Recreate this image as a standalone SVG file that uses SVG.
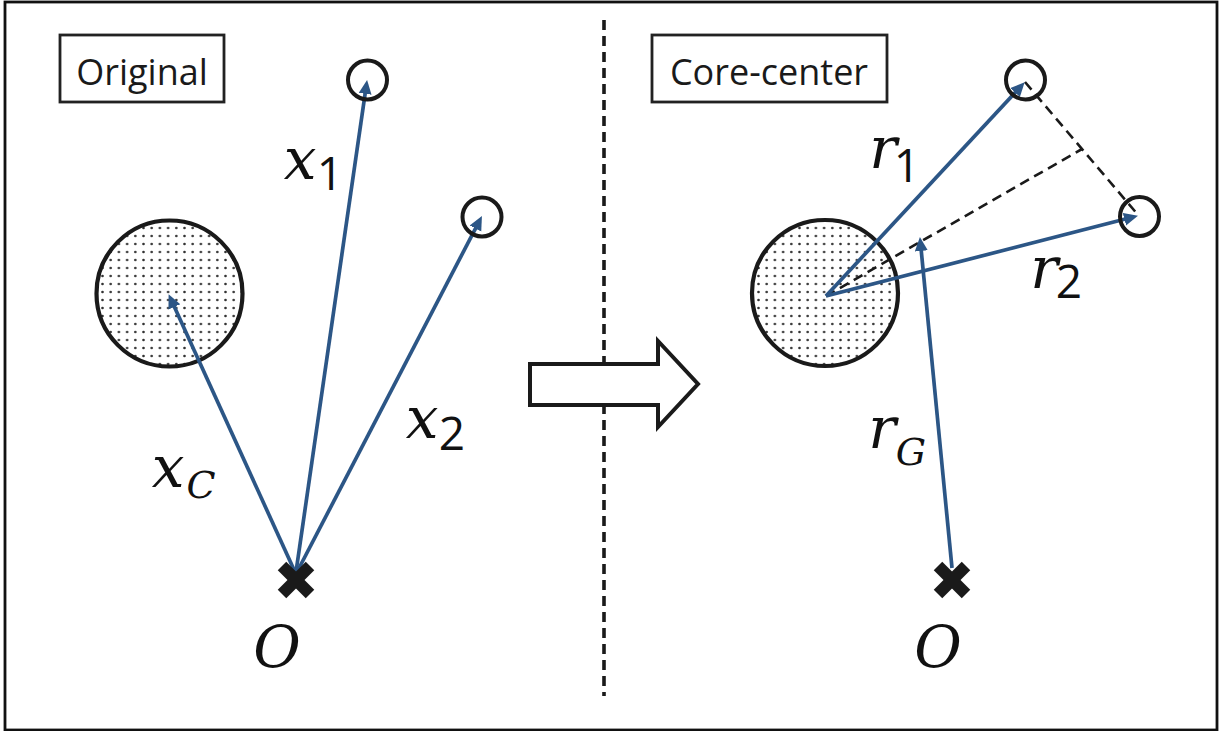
<svg xmlns="http://www.w3.org/2000/svg" width="1224" height="731" viewBox="0 0 1224 731">
<style>
.frame{fill:#fff;stroke:#111;stroke-width:2.8}
.box{fill:#fff;stroke:#222;stroke-width:2.8}
.boxtxt{font-family:"Open Sans","Liberation Sans",sans-serif;font-size:36px;fill:#1a1a1a;text-anchor:middle}
.big{fill:url(#dots);stroke:#1a1a1a;stroke-width:4.2}
.small{fill:none;stroke:#1a1a1a;stroke-width:4}
.arr{stroke:#2c5686;stroke-width:3.7;fill:none;marker-end:url(#ah)}
.dash{stroke:#1a1a1a;stroke-width:2.6;fill:none;stroke-dasharray:10 6}
.cross{stroke:#1a1a1a;stroke-width:12;stroke-linecap:butt}
.m{font-family:"DejaVu Serif","Liberation Serif",serif;font-style:italic;font-size:58px;fill:#111;text-anchor:middle}
.ms{font-family:"DejaVu Serif","Liberation Serif",serif;font-style:italic;font-size:38px;fill:#111;text-anchor:middle}
.sub{font-family:"Open Sans","Liberation Sans",sans-serif;font-size:46px;fill:#111;text-anchor:middle}
</style>
<defs>
<pattern id="dots" width="8.2" height="8" patternUnits="userSpaceOnUse">
<rect width="8.2" height="8" fill="#fff"/>
<circle cx="4.1" cy="4" r="1.3" fill="#333"/>
</pattern>
<marker id="ah" markerUnits="userSpaceOnUse" markerWidth="16" markerHeight="14" refX="7" refY="6.5" orient="auto">
<path d="M0,0 L14,6.5 L0,13 Z" fill="#2c5686"/>
</marker>
</defs>
<rect class="frame" x="5" y="2" width="1212" height="728"/>

<g id="divider">
<line x1="604" y1="20" x2="604" y2="696" stroke="#1a1a1a" stroke-width="3.6" stroke-dasharray="10 6"/>
</g>

<g id="transform-arrow">
<polygon points="530,364 658,364 658,341 698,384 658,427 658,405 530,405" fill="#fff" stroke="#1a1a1a" stroke-width="4" stroke-linejoin="miter"/>
</g>

<g id="label-original">
<rect class="box" x="60" y="35" width="164" height="67"/>
<text class="boxtxt" x="142" y="85">Original</text>
</g>
<g id="label-corecenter">
<rect class="box" x="652" y="35" width="235" height="67"/>
<text class="boxtxt" x="769" y="85">Core-center</text>
</g>

<g id="core-left"><circle class="big" cx="169.5" cy="293.5" r="73"/></g>
<g id="core-right"><circle class="big" cx="825" cy="293" r="73"/></g>

<g id="connectors">
<line class="dash" x1="826" y1="296" x2="1082" y2="149"/>
<line class="dash" x1="1025" y1="82" x2="1139" y2="216"/>
<line class="arr" x1="296" y1="572" x2="366.1" y2="86.9"/>
<line class="arr" x1="297" y1="572" x2="478.7" y2="222.3"/>
<line class="arr" x1="295" y1="572" x2="171.5" y2="300.5"/>
<line class="arr" x1="826" y1="296" x2="1019.9" y2="87.4"/>
<line class="arr" x1="826" y1="296" x2="1131.2" y2="217.5"/>
<line class="arr" x1="952" y1="568" x2="920.6" y2="244"/>
</g>

<g id="p1-left"><circle class="small" cx="367.5" cy="80" r="19.5"/></g>
<g id="p2-left"><circle class="small" cx="482" cy="217" r="19.5"/></g>
<g id="p1-right"><circle class="small" cx="1025.5" cy="80" r="19.5"/></g>
<g id="p2-right"><circle class="small" cx="1139.5" cy="216.5" r="19.5"/></g>

<g id="origin-left">
<line class="cross" x1="282" y1="566" x2="310" y2="594"/>
<line class="cross" x1="310" y1="566" x2="282" y2="594"/>
<text class="m" x="277" y="667">O</text>
</g>
<g id="origin-right">
<line class="cross" x1="938" y1="566" x2="966" y2="594"/>
<line class="cross" x1="966" y1="566" x2="938" y2="594"/>
<text class="m" x="938" y="667">O</text>
</g>

<g id="labels">
<text class="m" x="300" y="179">x</text><text class="sub" x="330" y="190">1</text>
<text class="m" x="422" y="438">x</text><text class="sub" x="452" y="450">2</text>
<text class="m" x="168" y="487">x</text><text class="ms" x="201" y="498">C</text>
<text class="m" x="883" y="168">r</text><text class="sub" x="907" y="182">1</text>
<text class="m" x="1044" y="288">r</text><text class="sub" x="1069" y="298">2</text>
<text class="m" x="882" y="448">r</text><text class="ms" x="911" y="465">G</text>
</g>
</svg>
